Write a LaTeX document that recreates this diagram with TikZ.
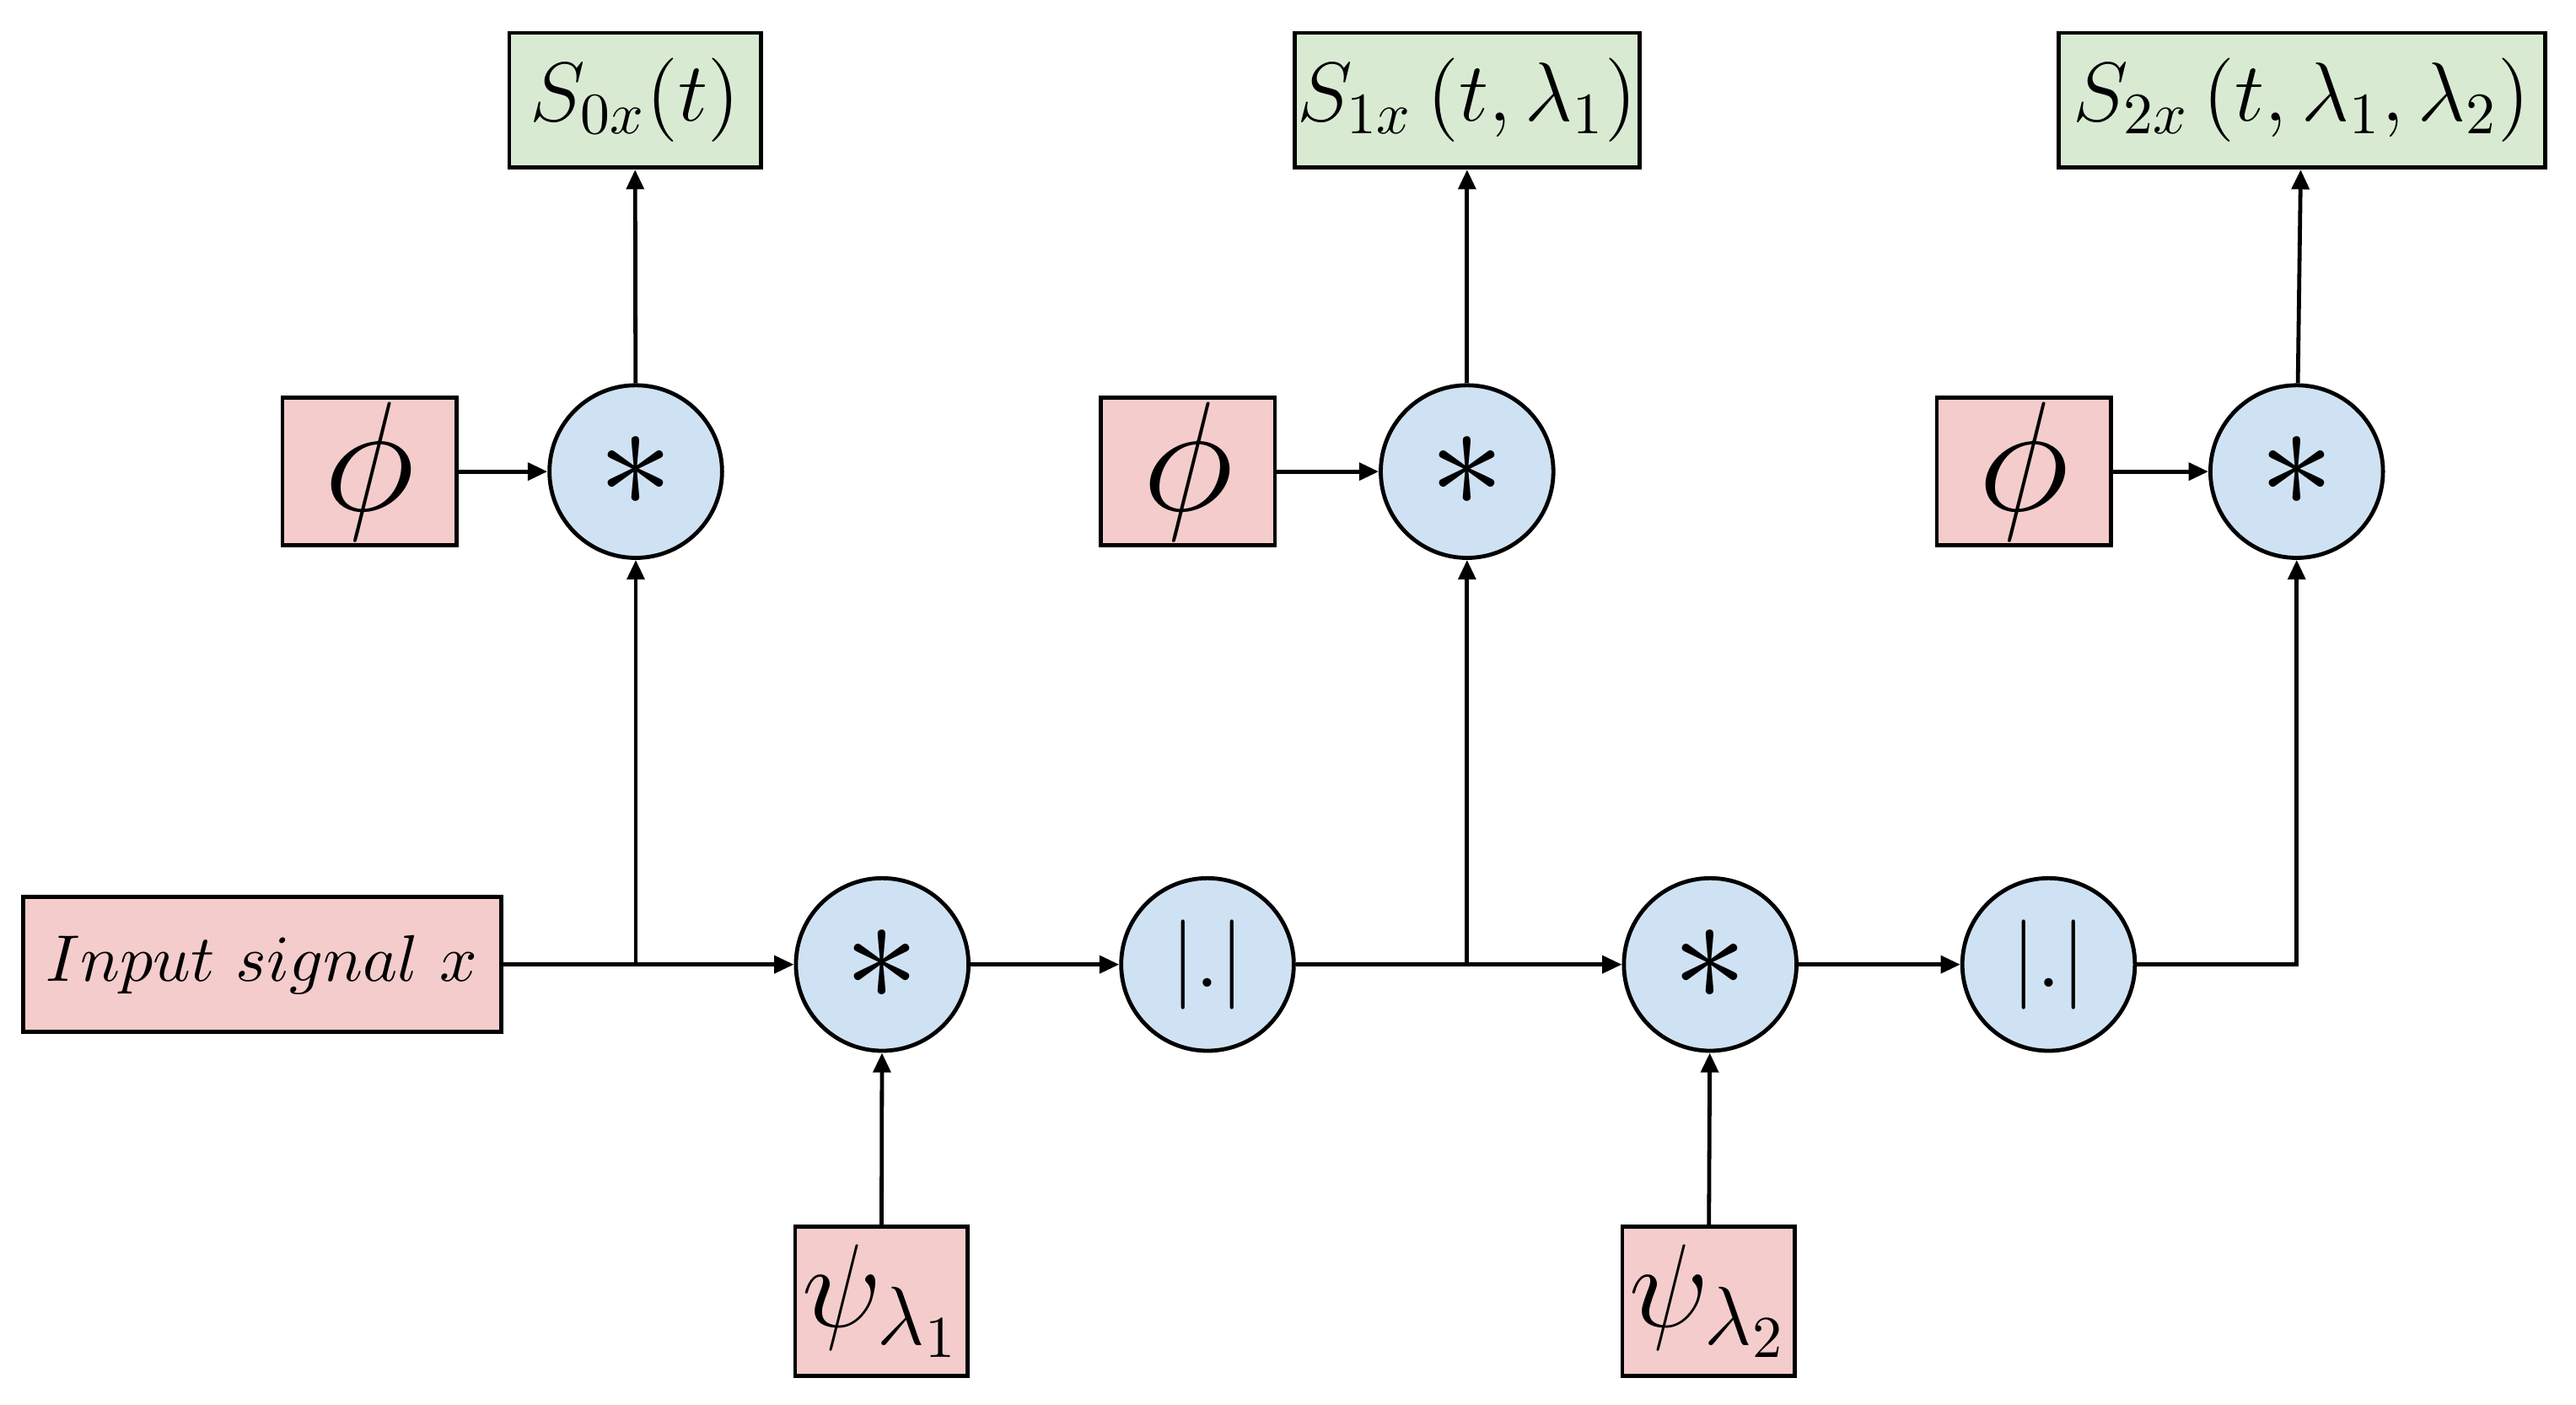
\documentclass[tikz,border=0pt]{standalone}
\usepackage{fix-cm}
\usepackage{amsmath,amssymb}
\usetikzlibrary{arrows.meta}
\definecolor{filtred}{HTML}{F4CCCC}
\definecolor{outgreen}{HTML}{D9EAD3}
\definecolor{opblue}{HTML}{CFE2F3}

\begin{document}
\begin{tikzpicture}[x=0.01cm, y=-0.01cm, line width=0.7pt,
    filt/.style={draw, fill=filtred, inner sep=0pt},
    outbox/.style={draw, fill=outgreen, inner sep=0pt, minimum height=0.82cm,
        font=\fontsize{14.5}{14.5}\selectfont},
    op/.style={draw, circle, fill=opblue, inner sep=0pt, minimum size=1.05cm},
    conv/.style={op, font=\fontsize{26}{26}\selectfont},
    modulus/.style={op, font=\fontsize{15.5}{15.5}\selectfont},
    arr/.style={-{Triangle[length=3.4pt,width=3pt]}}]
\useasboundingbox (0,0) rectangle (1568,855);
% Input
\node[filt, minimum width=2.91cm, minimum height=0.82cm,
    font=\fontsize{11.4}{11.4}\selectfont] (in) at (159.5,587) {$Input\ signal\ x$};
% Bottom row
\node[conv] (conv1) at (537,587) {$*$};
\node[modulus] (mod1) at (735,587) {$|.|$};
\node[conv] (conv2) at (1041,587) {$*$};
\node[modulus] (mod2) at (1247,587) {$|.|$};
% Wavelets
\node[filt, minimum width=1.05cm, minimum height=0.91cm,
    font=\fontsize{20.5}{20.5}\selectfont] (psi1) at (536.5,792) {$\psi_{\lambda_1}$};
\node[filt, minimum width=1.05cm, minimum height=0.91cm,
    font=\fontsize{20.5}{20.5}\selectfont] (psi2) at (1040,792) {$\psi_{\lambda_2}$};
% Low-pass row
\foreach \i/\x/\px in {0/387/225, 1/893/723, 2/1398/1232} {
    \node[filt, minimum width=1.06cm, minimum height=0.90cm,
        font=\fontsize{27}{27}\selectfont] (phi\i) at (\px,287) {$\phi$};
    \node[conv] (top\i) at (\x,287) {$*$};
}
% Outputs
\node[outbox, minimum width=1.53cm] (out0) at (386.5,61) {$S_{0x}(t)$};
\node[outbox, minimum width=2.10cm] (out1) at (893,61) {$S_{1x}\left(t,\lambda_1\right)$};
\node[outbox, minimum width=2.96cm] (out2) at (1401,61) {$S_{2x}\left(t,\lambda_1,\lambda_2\right)$};
% Branch points
\coordinate (b0) at (387,587);
\coordinate (b1) at (893,587);
% Connectors
\draw (in.east) -- (b0);
\draw[arr] (b0) -- (conv1);
\draw[arr] (b0) -- (top0);
\draw[arr] (conv1) -- (mod1);
\draw (mod1) -- (b1);
\draw[arr] (b1) -- (conv2);
\draw[arr] (b1) -- (top1);
\draw[arr] (conv2) -- (mod2);
\draw[arr] (mod2) -| (top2);
\draw[arr] (psi1) -- (conv1);
\draw[arr] (psi2) -- (conv2);
\foreach \i in {0,1,2} {
    \draw[arr] (phi\i) -- (top\i);
    \draw[arr] (top\i) -- (out\i);
}
\end{tikzpicture}
\end{document}
